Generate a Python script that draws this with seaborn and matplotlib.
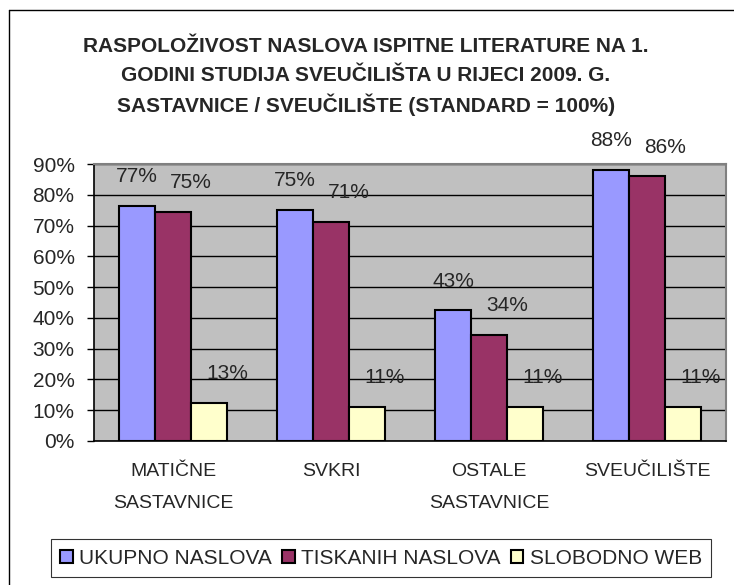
import matplotlib
matplotlib.use("Agg")
import matplotlib.pyplot as plt
from matplotlib.lines import Line2D
import seaborn as sns
import pandas as pd

# data
categories = ["MATIČNE\nSASTAVNICE", "SVKRI", "OSTALE\nSASTAVNICE", "SVEUČILIŠTE"]
series = ["UKUPNO NASLOVA", "TISKANIH NASLOVA", "SLOBODNO WEB"]
ukupno = [0.765, 0.752, 0.425, 0.88]
tiskanih = [0.745, 0.712, 0.345, 0.86]
slobodno = [0.125, 0.112, 0.112, 0.112]
labels_ukupno = ["77%", "75%", "43%", "88%"]
labels_tiskanih = ["75%", "71%", "34%", "86%"]
labels_slobodno = ["13%", "11%", "11%", "11%"]
yticks = [0.0, 0.1, 0.2, 0.3, 0.4, 0.5, 0.6, 0.7, 0.8, 0.9]

colors = ["#9999FF", "#993366", "#FFFFCC"]

df = pd.DataFrame({
    "Kategorija": categories * 3,
    "Serija": [series[0]] * 4 + [series[1]] * 4 + [series[2]] * 4,
    "Vrijednost": ukupno + tiskanih + slobodno,
})
label_sets = [labels_ukupno, labels_tiskanih, labels_slobodno]

sns.set_theme(style="white")
plt.rcParams["font.family"] = ["Liberation Sans", "DejaVu Sans"]

W, H = 734, 585
fig = plt.figure(figsize=(W / 100, H / 100), dpi=100)
ax = fig.add_axes([94 / W, (H - 441) / H, (726 - 94) / W, (441 - 164) / H])

sns.barplot(data=df, x="Kategorija", y="Vrijednost", hue="Serija", palette=colors,
            width=0.68, gap=0, edgecolor="black", linewidth=1.5, ax=ax, legend=True, saturation=1)

ax.set_facecolor("#C0C0C0")
ax.set_ylim(0, 0.9)
ax.set_xlim(-0.5, 3.5)
ax.set_yticks(yticks)
ax.set_yticklabels([f"{t:.0%}" for t in yticks], fontsize=15)
ax.yaxis.grid(True, color="black", linewidth=1)
ax.set_axisbelow(True)
ax.set_xlabel("")
ax.set_ylabel("")

ax.set_xticks(range(len(categories)))
ax.set_xticklabels(categories, fontsize=14, linespacing=2.1)
ax.set_xticks([i - 0.5 for i in range(len(categories) + 1)], minor=True)
ax.tick_params(axis="x", which="major", length=0, pad=16)
ax.tick_params(axis="x", which="minor", length=5, width=1, color="black", direction="out")
ax.tick_params(axis="y", length=5, width=1, color="black", direction="out", pad=9, left=True)

for side in ["left", "bottom"]:
    ax.spines[side].set_color("black")
    ax.spines[side].set_linewidth(1.2)
for side in ["top", "right"]:
    ax.spines[side].set_color("#808080")
    ax.spines[side].set_linewidth(1.5)

# value labels above bars
for k, cont in enumerate(ax.containers):
    dx = 0 if k == 0 else 13
    for bar, lab in zip(cont, label_sets[k]):
        ax.annotate(lab, (bar.get_x() + bar.get_width() / 2, bar.get_height()),
                    xytext=(dx, 21), textcoords="offset points",
                    ha="center", va="center", fontsize=15, annotation_clip=False)

handles, lbls = ax.get_legend_handles_labels()
ax.get_legend().remove()
leg = fig.legend(handles, lbls, loc="center", bbox_to_anchor=(381 / W, 1 - 558 / H),
                 ncol=3, fontsize=15, frameon=True, fancybox=False, edgecolor="black",
                 handlelength=0.6, handleheight=0.6, handletextpad=0.3, columnspacing=0.5,
                 borderpad=0.45)
leg.get_frame().set_linewidth(0.8)

title_lines = ["RASPOLOŽIVOST NASLOVA ISPITNE LITERATURE NA 1.",
               "GODINI STUDIJA SVEUČILIŠTA U RIJECI 2009. G.",
               "SASTAVNICE / SVEUČILIŠTE (STANDARD = 100%)"]
for i, line in enumerate(title_lines):
    fig.text(366 / W, 1 - (46 + 29.5 * i) / H, line, ha="center", va="center",
             fontsize=15, fontweight="bold")

# outer frame (left and top edges)
fig.add_artist(Line2D([9 / W, 9 / W], [0, 1 - 10 / H], transform=fig.transFigure, color="black", linewidth=1))
fig.add_artist(Line2D([9 / W, 1], [1 - 10 / H, 1 - 10 / H], transform=fig.transFigure, color="black", linewidth=1))

fig.savefig("out.png", dpi=100)
